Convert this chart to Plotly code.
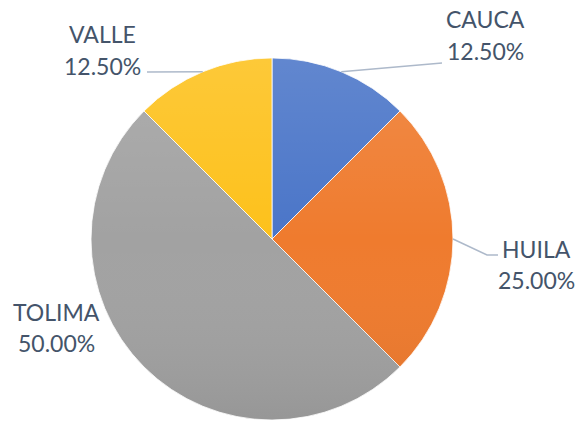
import math, base64
import plotly.graph_objects as go

# ---- data ----
categories = ["CAUCA", "HUILA", "TOLIMA", "VALLE"]
values = [12.5, 25.0, 50.0, 12.5]
colors = ["#4A75C8", "#EF7B2E", "#A2A2A2", "#FDC11B"]

W, H = 582, 421
CX, CY, R = 272, 239, 181  # pie center / radius in pixels

def px(x):
    return x / W

def py(y):
    return 1 - y / H

fig = go.Figure()
fig.add_trace(go.Pie(
    labels=categories, values=values, sort=False, direction="clockwise",
    rotation=0, textinfo="none", hoverinfo="label+percent",
    marker=dict(colors=colors, line=dict(color="white", width=0.8)),
    domain=dict(x=[px(CX - R), px(CX + R)], y=[py(CY + R), py(CY - R)]),
    showlegend=False,
))

# gradient overlay (lighter top, darker bottom)
svg = (
    '<svg xmlns="http://www.w3.org/2000/svg" width="362" height="362" viewBox="0 0 362 362">'
    '<defs><linearGradient id="g" x1="0" y1="0" x2="0" y2="1">'
    '<stop offset="0" stop-color="#ffffff" stop-opacity="0.13"/>'
    '<stop offset="0.5" stop-color="#ffffff" stop-opacity="0"/>'
    '<stop offset="1" stop-color="#000000" stop-opacity="0.07"/>'
    '</linearGradient></defs>'
    '<circle cx="181" cy="181" r="180.5" fill="url(#g)"/></svg>'
)
src = "data:image/svg+xml;base64," + base64.b64encode(svg.encode()).decode()
images = [dict(source=src, xref="paper", yref="paper", x=px(CX - R), y=py(CY - R),
               sizex=2 * R / W, sizey=2 * R / H, xanchor="left", yanchor="top",
               sizing="stretch", layer="above")]

# label layout (pixel positions of text and leader-line label ends)
label_pos = {
    "CAUCA": dict(x=485, y1=17.5, y2=50, line=[(442, 63)]),
    "HUILA": dict(x=536, y1=248, y2=279, line=[(487, 255), (498, 255)]),
    "TOLIMA": dict(x=56.5, y1=310.5, y2=342, line=None),
    "VALLE": dict(x=102, y1=33.5, y2=65, line=[(147, 72)]),
}

total = sum(values)
annotations = []
shapes = []
cum = 0
for cat, v in zip(categories, values):
    mid = 2 * math.pi * (cum + v / 2) / total
    cum += v
    sx = CX + R * math.sin(mid)
    sy = CY - R * math.cos(mid)
    lp = label_pos[cat]
    pct = f"{v / total * 100:.2f}%"
    for txt, yy in ((cat, lp["y1"]), (pct, lp["y2"])):
        annotations.append(dict(
            text=txt, x=px(lp["x"]), y=py(yy + 1), xref="paper", yref="paper",
            showarrow=False, xanchor="center", yanchor="middle",
            font=dict(family="Lato", size=23, color="#44546A"),
        ))
    if lp["line"]:
        pts = [(sx, sy)] + lp["line"]
        path = "M " + " L ".join(f"{px(a)},{py(b)}" for a, b in pts)
        shapes.append(dict(type="path", path=path, xref="paper", yref="paper",
                           line=dict(color="#ADB9CA", width=1.5)))

fig.update_layout(
    width=W, height=H, margin=dict(l=0, r=0, t=0, b=0),
    paper_bgcolor="white", plot_bgcolor="white",
    annotations=annotations, shapes=shapes, images=images,
)
fig.write_html("out.html", config={"displayModeBar": False},
               post_script="document.body.style.margin='0';")
